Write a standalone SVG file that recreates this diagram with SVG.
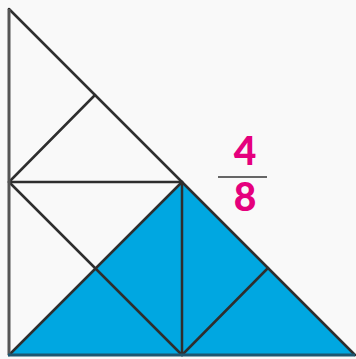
<svg xmlns="http://www.w3.org/2000/svg" width="356" height="359" viewBox="0 0 356 359">
<style>
.ln{stroke:#2e2e2e;stroke-width:2.5;fill:none;stroke-linecap:round}
.num{font-family:"Lato","Open Sans",sans-serif;font-weight:900;font-size:39px;fill:#e5007d;text-anchor:middle}
</style>
<rect width="356" height="359" fill="#f9f9f9"/>
<g id="shaded">
<polygon points="9,355 182,182 355,355" fill="#00a7e1"/>
</g>
<g id="connectors">
<line class="ln" x1="9" y1="9" x2="355" y2="355"/>
<line class="ln" x1="9" y1="182" x2="182" y2="182"/>
<line class="ln" x1="95" y1="95" x2="9" y2="182"/>
<line class="ln" x1="9" y1="182" x2="182" y2="355"/>
<line class="ln" x1="9" y1="355" x2="182" y2="182"/>
<line class="ln" x1="182" y1="182" x2="182" y2="355" stroke="#14455a"/>
<line class="ln" x1="268" y1="268" x2="182" y2="355"/>
<line x1="9" y1="9" x2="9" y2="355" stroke="#555" stroke-width="3"/>
<line x1="8" y1="355" x2="355" y2="355" stroke="#1d5670" stroke-width="3"/>
</g>
<g id="fraction">
<text class="num" x="245" y="165">4</text>
<line x1="218" y1="177" x2="267" y2="177" stroke="#666" stroke-width="2"/>
<text class="num" x="245" y="211">8</text>
</g>
</svg>
